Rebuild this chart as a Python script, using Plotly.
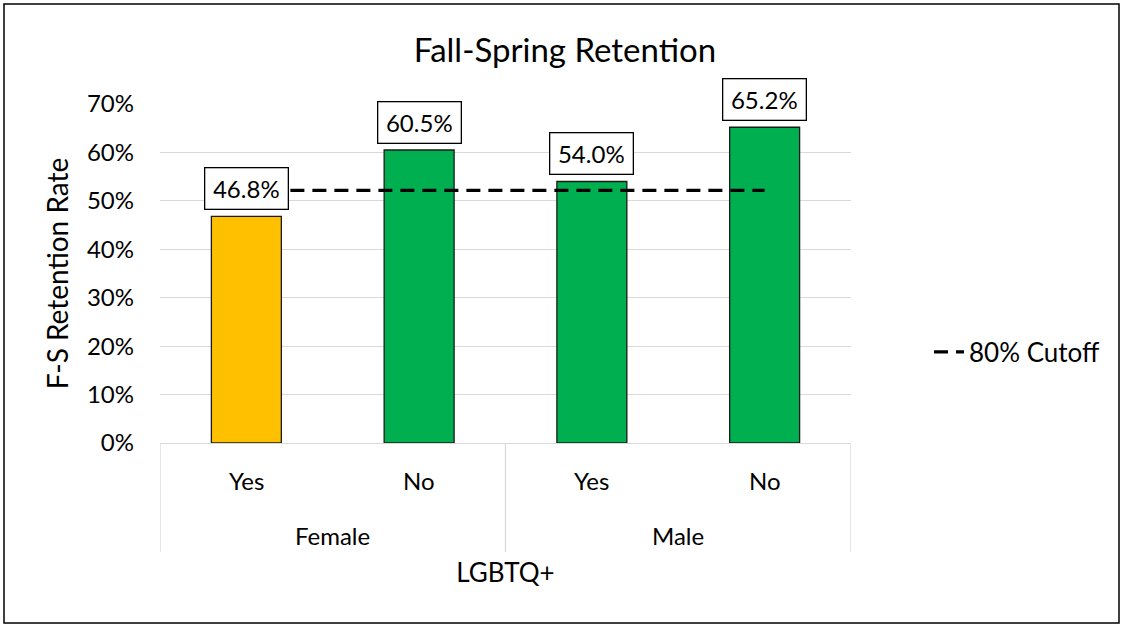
import plotly.graph_objects as go

genders = ["Female", "Female", "Male", "Male"]
lgbtq = ["Yes", "No", "Yes", "No"]
retention = [0.468, 0.605, 0.540, 0.652]
bar_colors = ["#FFC000", "#00B050", "#00B050", "#00B050"]
cutoff = [0.5216, 0.5216, 0.5216, 0.5216]
labels = ["46.8%", "60.5%", "54.0%", "65.2%"]

FONT = "Lato, Carlito, Calibri, sans-serif"

L, R, T, B = 160, 272, 104, 184
W, H = 1123, 627
pw, ph = W - L - R, H - T - B


def py(pix):
    """page pixel row -> paper y"""
    return (H - B - pix) / ph


fig = go.Figure()
fig.add_trace(go.Bar(
    x=[genders, lgbtq], y=retention,
    marker=dict(color=bar_colors, line=dict(color="#1a1a1a", width=1.3)),
    width=0.405, showlegend=False, hoverinfo="skip"))
fig.add_trace(go.Scatter(
    x=[genders, lgbtq], y=cutoff, mode="lines", name="80% Cutoff",
    line=dict(color="#000000", width=3.3, dash="14px,8px")))

# value labels
for i, (v, t) in enumerate(zip(retention, labels)):
    fig.add_annotation(x=i, y=v, text=t, showarrow=False, yanchor="bottom",
                       yshift=6, bgcolor="white", bordercolor="#000000",
                       borderwidth=1.3, borderpad=8, width=66, height=24,
                       font=dict(family=FONT, size=24, color="#000000"))

# category labels (inner level)
for i, t in enumerate(lgbtq):
    fig.add_annotation(x=i, y=py(480), yref="paper", text=t, showarrow=False,
                       yanchor="middle", font=dict(family=FONT, size=24))

# group labels (outer level) and dividers
groups = []
for g in genders:
    if g not in groups:
        groups.append(g)
for g in groups:
    idx = [i for i, gg in enumerate(genders) if gg == g]
    mid = (idx[0] + idx[-1]) / 2
    fig.add_annotation(x=mid, y=py(535), yref="paper", text=g, showarrow=False,
                       yanchor="middle", font=dict(family=FONT, size=24))
bounds = [-0.5] + [i + 0.5 for i in range(len(genders) - 1) if genders[i] != genders[i + 1]] + [len(genders) - 0.5]
for b in bounds:
    fig.add_shape(type="line", xref="x", yref="paper", x0=b, x1=b,
                  y0=0, y1=py(552), line=dict(color="#D9D9D9", width=1.3))

# outer border
fig.add_shape(type="rect", xref="paper", yref="paper",
              x0=(4 - L) / pw, x1=(1119 - L) / pw,
              y0=py(623), y1=py(4),
              line=dict(color="#000000", width=1.5), layer="below")

fig.update_layout(
    width=W, height=H,
    margin=dict(l=L, r=R, t=T, b=B),
    paper_bgcolor="white", plot_bgcolor="white",
    font=dict(family=FONT, size=24, color="#000000"),
    title=dict(text="Fall-Spring Retention", x=565 / W, xanchor="center",
               y=1 - 50 / H, yanchor="middle",
               font=dict(family=FONT, size=33, color="#000000")),
    legend=dict(x=(929 - L) / pw, y=py(352), xanchor="left",
                yanchor="middle", font=dict(family=FONT, size=26),
                bgcolor="rgba(0,0,0,0)"),
    xaxis=dict(
        title=dict(text="LGBTQ+", font=dict(family=FONT, size=26), standoff=120),
        showline=True, linecolor="#D9D9D9", linewidth=1.3,
        showticklabels=False, showdividers=False, ticks="",
        range=[-0.5, len(genders) - 0.5]),
    yaxis=dict(
        title=dict(text="F-S Retention Rate", font=dict(family=FONT, size=28), standoff=10),
        range=[0, 0.7], dtick=0.1, tickformat=".0%",
        showgrid=True, gridcolor="#D9D9D9", gridwidth=1.3,
        zeroline=False, showline=False, ticks="", ticklabelstandoff=25,
        tickfont=dict(family=FONT, size=24)),
)

fig.write_html("out.html", config={"displayModeBar": False},
               post_script="document.body.style.margin='0';")
